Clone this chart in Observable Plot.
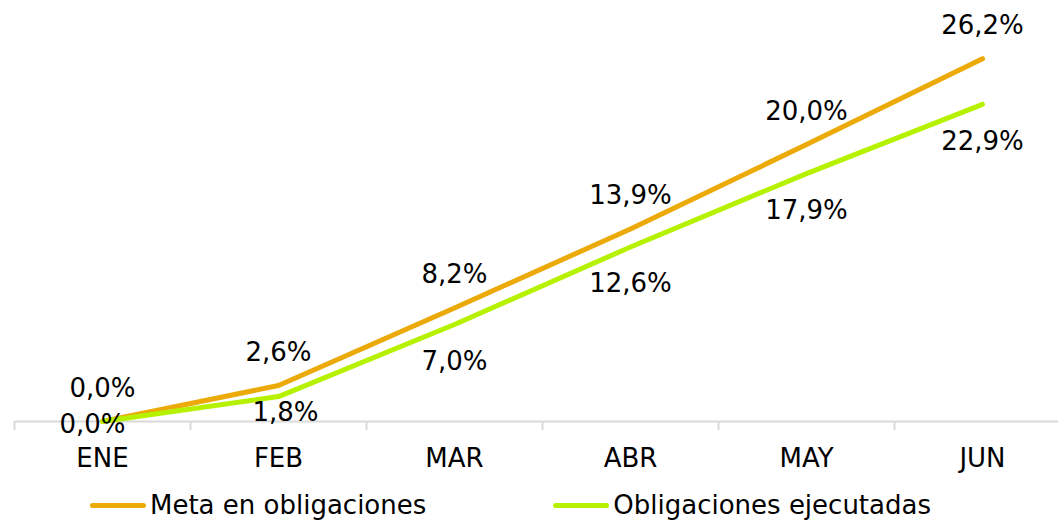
<!DOCTYPE html>
<html><head><meta charset="utf-8">
<script src="https://cdn.jsdelivr.net/npm/d3@7"></script>
<script src="https://cdn.jsdelivr.net/npm/@observablehq/plot@0.6"></script>
<style>
body{margin:0;background:#fff;font-family:"DejaVu Sans",Verdana,sans-serif;}
#legend{display:flex;height:50px;align-items:center;font-size:26px;color:#000;}
.item{display:flex;align-items:center;}
.sw{width:56px;height:5px;border-radius:3px;margin-right:4px;}
</style></head>
<body><div id="chart"></div>
<div id="legend"></div>
<script>
const months = ["ENE","FEB","MAR","ABR","MAY","JUN"];
const meta = [0.0, 2.6, 8.2, 13.9, 20.0, 26.2];
const ejecutadas = [0.0, 1.8, 7.0, 12.6, 17.9, 22.9];
const seriesNames = ["Meta en obligaciones","Obligaciones ejecutadas"];
const colors = ["#EBAA07","#B6F100"];

const fmt = v => v.toFixed(1).replace(".", ",") + "%";
const dMeta = months.map((m,i)=>({m, v: meta[i]}));
const dEje = months.map((m,i)=>({m, v: ejecutadas[i], i}));

const chart = Plot.plot({
  width: 1058, height: 480,
  marginLeft: 14, marginRight: 0, marginTop: 0, marginBottom: 59,
  style: {fontFamily: "DejaVu Sans, Verdana, sans-serif", fontSize: "26px", color: "#000", background: "#fff"},
  x: {type: "point", domain: months, range: [102, 982], padding: 0, label: null},
  y: {domain: [0, 30], range: [421, 5.5], axis: null},
  marks: [
    Plot.ruleY([0], {stroke: "#d9d9d9", strokeWidth: 2}),
    Plot.axisX({tickSize: 9, dx: -88, tickFormat: null, stroke: "#d9d9d9", strokeWidth: 2, label: null}),
    Plot.axisX({tickSize: 0, tickPadding: 27, fontSize: 26, fill: "#000", label: null}),
    Plot.line(dMeta, {x: "m", y: "v", stroke: colors[0], strokeWidth: 5, strokeLinecap: "round", strokeLinejoin: "round"}),
    Plot.line(dEje, {x: "m", y: "v", stroke: colors[1], strokeWidth: 5, strokeLinecap: "round", strokeLinejoin: "round"}),
    Plot.text(dMeta, {x: "m", y: "v", text: d => fmt(d.v), dy: -33, fontSize: 26, fill: "#000"}),
    Plot.text(dEje.slice(2), {x: "m", y: "v", text: d => fmt(d.v), dy: 37, fontSize: 26, fill: "#000"}),
    Plot.text(dEje.slice(1,2), {x: "m", y: "v", text: d => fmt(d.v), dy: 16, dx: 7, fontSize: 26, fill: "#000"}),
    Plot.text(dEje.slice(0,1), {x: "m", y: "v", text: d => fmt(d.v), dy: 3, dx: -10, fontSize: 26, fill: "#000"})
  ]
});
document.getElementById("chart").appendChild(chart);

const lg = document.getElementById("legend");
const offsets = [90, 127];
seriesNames.forEach((n,i)=>{
  const it = document.createElement("div");
  it.className = "item";
  it.style.marginLeft = offsets[i] + "px";
  it.innerHTML = `<div class="sw" style="background:${colors[i]}"></div><span>${n}</span>`;
  lg.appendChild(it);
});
</script></body></html>
